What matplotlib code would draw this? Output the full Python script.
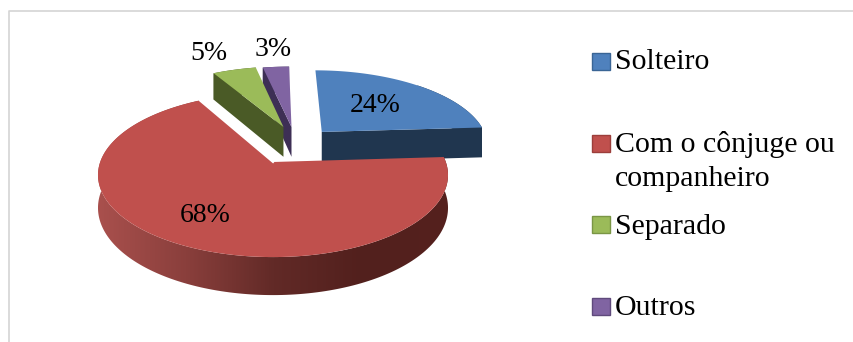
#!/usr/bin/env python3
# -*- coding: utf-8 -*-
import numpy as np
import matplotlib
matplotlib.use('Agg')
import matplotlib.pyplot as plt
from matplotlib.colors import LinearSegmentedColormap
from matplotlib.patches import Polygon, Rectangle

categories = ['Solteiro', 'Com o cônjuge ou\ncompanheiro', 'Separado', 'Outros']
values = [24, 68, 5, 3]
top_colors = ['#4F81BD', '#C0504D', '#9BBB59', '#8064A2']
wall_colors = ['#20364F', '#5A2320', '#4A5A26', '#3D2F55']
legend_edges = ['#3A6595', '#9C3E3B', '#7A9645', '#5F4A7C']

# how far each slice is pulled out of the pie, on the pie's own plane
explode = [(0.30, 0.40), (0.0, 0.0), (0.065, 0.47), (0.115, 0.47)]
label_xy = [(375, 106), (205, 216), (209, 53.5), (273, 50)]
legend_y = [61, 143, 224, 306]
legend_text_y = [62, 161.5, 227, 308]
# where the outer wall starts to show, as a fraction of a turn
wall_from = [0.12, 0.24, 0.92, 0.97]

# perspective camera for the tilted disc, in pixels
cx, cy = 273.0, 162.0
A, B, k = 172.8, 80.0, 0.1585
depth = 32.0


def project(u, v, drop=0.0):
    w = 1 + k * v
    return cx + A * u / w, cy - B * v / w + drop / w


def rim(start, stop, off):
    # clockwise from twelve o'clock, fractions of a full turn
    t = np.linspace(start, stop, 200) * 2 * np.pi
    return np.sin(t) + off[0], np.cos(t) + off[1]


fig = plt.figure(figsize=(8.54, 3.42), dpi=100, facecolor='white')
ax = fig.add_axes([0, 0, 1, 1])
ax.axis('off')
fracs = np.cumsum([0] + values) / sum(values)
serif = 'Liberation Serif'

# thin frame on the left and top
ax.plot([9.5, 9.5, 854], [342, 10.5, 10.5], color='#d4d4d4', lw=1.2, zorder=1)

# far slices first, the big one last
for i in [3, 2, 0, 1]:
    a, b = fracs[i], fracs[i + 1]
    off = explode[i]
    u, v = rim(a, b, off)
    x0, y0 = project(u, v)
    wu, wv = rim(max(a, wall_from[i]), b, off)
    wx0, wy0 = project(wu, wv)
    wx1, wy1 = project(wu, wv, depth)
    band = np.r_[np.c_[wx0, wy0], np.c_[wx1, wy1][::-1]]
    z = 3 + [3, 2, 0, 1].index(i)
    if i == 1:
        shade = LinearSegmentedColormap.from_list(
            'shade', ['#A9504D', '#8A3F3C', '#622A27', '#52201D', '#55211E'])
        im = ax.imshow(np.linspace(0, 1, 256)[None, :], extent=(x0.min(), x0.max(), 342, 0),
                       cmap=shade, aspect='auto', zorder=z)
        clip = Polygon(band, transform=ax.transData, fc='none', ec='none')
        ax.add_patch(clip)
        im.set_clip_path(clip)
    else:
        ax.add_patch(Polygon(band, fc=wall_colors[i], ec='none', zorder=z))
        # cut face toward the viewer
        face = a if i != 0 else b
        fu, fv = rim(face, face, off)
        ox0, oy0 = project(off[0], off[1])
        ox1, oy1 = project(off[0], off[1], depth)
        rx0, ry0 = project(fu[0], fv[0])
        rx1, ry1 = project(fu[0], fv[0], depth)
        ax.add_patch(Polygon([(ox0, oy0), (rx0, ry0), (rx1, ry1), (ox1, oy1)],
                             fc=wall_colors[i], ec='none', zorder=z))
    ox, oy = project(off[0], off[1])
    ax.add_patch(Polygon(np.r_[[(ox, oy)], np.c_[x0, y0]], fc=top_colors[i], ec='none', zorder=z + 0.5))
    if i == 1:
        ax.plot([x0[-1], ox], [y0[-1], oy], color='white', lw=1.5, zorder=z + 0.6)

for i, val in enumerate(values):
    ax.text(label_xy[i][0], label_xy[i][1], '%d%%' % val, family=serif, fontsize=20,
            ha='center', va='center', color='black', zorder=20)

# legend
for i, name in enumerate(categories):
    ax.add_patch(Rectangle((592, legend_y[i] - 8.5), 18, 17, fc=top_colors[i],
                           ec=legend_edges[i], lw=1, zorder=10))
    ax.text(615, legend_text_y[i], name, family=serif, fontsize=21.5, ha='left', va='center',
            color='black', linespacing=1.38, zorder=20)

ax.set_xlim(0, 854)
ax.set_ylim(342, 0)
fig.savefig('out.png', dpi=100)
